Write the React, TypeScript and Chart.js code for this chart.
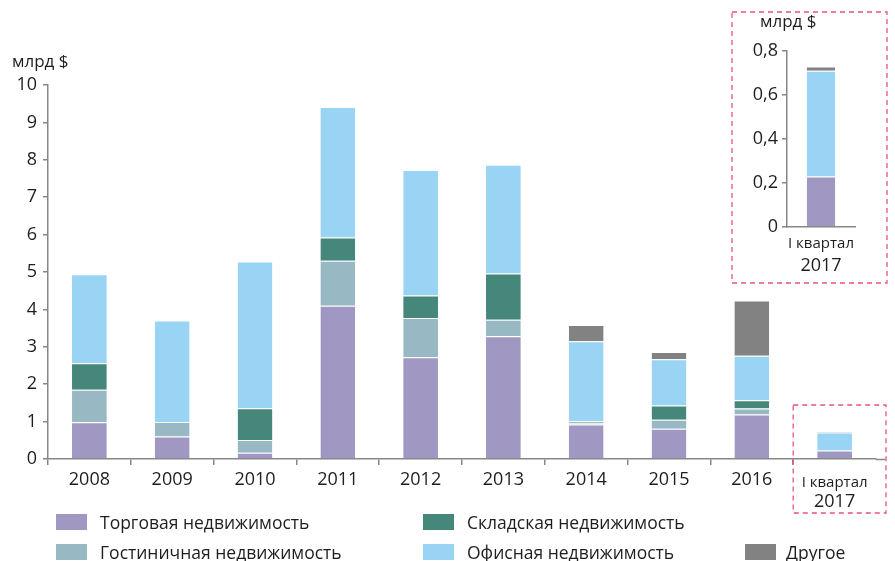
import { useEffect, useRef } from "react"
import { Chart, registerables } from "chart.js"

Chart.register(...registerables)

const years = ["2008", "2009", "2010", "2011", "2012", "2013", "2014", "2015", "2016", "I квартал 2017"]
const retail = [0.98, 0.6, 0.17, 4.1, 2.72, 3.28, 0.92, 0.81, 1.19, 0.23]
const hotel = [0.87, 0.39, 0.34, 1.2, 1.05, 0.44, 0.05, 0.24, 0.16, 0]
const warehouse = [0.71, 0, 0.85, 0.62, 0.6, 1.24, 0.04, 0.38, 0.22, 0]
const office = [2.38, 2.71, 3.92, 3.49, 3.36, 2.91, 2.14, 1.24, 1.19, 0.48]
const other = [0, 0, 0, 0, 0, 0, 0.43, 0.19, 1.48, 0.02]

const quarterLabel = ["I квартал", "2017"]
const unitLabel = "млрд $"

const series = [
  { label: "Торговая недвижимость", data: retail, color: "#a097c2" },
  { label: "Гостиничная недвижимость", data: hotel, color: "#98b9c3" },
  { label: "Складская недвижимость", data: warehouse, color: "#46877b" },
  { label: "Офисная недвижимость", data: office, color: "#99d4f5" },
  { label: "Другое", data: other, color: "#828282" },
]

const FONT = "'Open Sans', 'Noto Sans', sans-serif"
const AXIS = "#878787"
const TEXT = "#1e1e1e"
const PINK = "#e8537c"

const makeDatasets = (idx: number | null) =>
  series.map((s) => ({
    label: s.label,
    data: idx === null ? s.data : [s.data[idx]],
    backgroundColor: s.color,
    borderColor: "rgba(255,255,255,0.85)",
    borderWidth: { top: 1, left: 0, right: 0, bottom: 0 },
    borderSkipped: false as const,
    barPercentage: 0.42,
    categoryPercentage: 1,
  }))

// draws the two-line "I квартал / 2017" label with a smaller first line
const quarterTick = (index: number, y1: number, y2: number) => ({
  id: "quarterTick" + index,
  afterDraw(chart: Chart) {
    const ctx = chart.ctx
    const x = chart.scales.x.getPixelForValue(index)
    ctx.save()
    ctx.fillStyle = TEXT
    ctx.textAlign = "center"
    ctx.textBaseline = "middle"
    ctx.font = `15px ${FONT}`
    ctx.fillText(quarterLabel[0], x, y1)
    ctx.font = `18px ${FONT}`
    ctx.fillText(quarterLabel[1], x, y2)
    ctx.restore()
  },
})

const unitText = (x: number, y: number) => ({
  id: "unitText",
  afterDraw(chart: Chart) {
    const ctx = chart.ctx
    ctx.save()
    ctx.fillStyle = TEXT
    ctx.font = `17px ${FONT}`
    ctx.textBaseline = "middle"
    ctx.fillText(unitLabel, x, y)
    ctx.restore()
  },
})

// pink dashed frames + the x axis line running a bit past the last category
const decorations = {
  id: "decorations",
  afterDraw(chart: Chart) {
    const ctx = chart.ctx
    const xs = chart.scales.x
    const area = chart.chartArea
    const last = years.length - 1
    const left = (xs.getPixelForValue(last - 1) + xs.getPixelForValue(last)) / 2
    const right = xs.getPixelForValue(last) + (xs.getPixelForValue(last) - left) + 10
    ctx.save()
    ctx.strokeStyle = AXIS
    ctx.lineWidth = 1.5
    ctx.beginPath()
    ctx.moveTo(area.right, area.bottom + 0.5)
    ctx.lineTo(area.right + 9, area.bottom + 0.5)
    ctx.stroke()
    ctx.strokeStyle = PINK
    ctx.lineWidth = 1.3
    ctx.setLineDash([5, 4])
    ctx.strokeRect(left, 405, right - left, 108)
    ctx.strokeRect(732, 12, 155, 271)
    ctx.restore()
  },
}

export default function App() {
  const mainRef = useRef<HTMLCanvasElement>(null)
  const insetRef = useRef<HTMLCanvasElement>(null)

  useEffect(() => {
    document.body.style.margin = "0"
    if (!mainRef.current || !insetRef.current) return

    const main = new Chart(mainRef.current, {
      type: "bar",
      data: { labels: years, datasets: makeDatasets(null) },
      options: {
        animation: false,
        responsive: false,
        layout: { padding: { top: 85, left: 0, right: 19, bottom: 0 } },
        plugins: { legend: { display: false }, tooltip: { enabled: false } },
        scales: {
          x: {
            stacked: true,
            afterFit: (s) => {
              s.height = 102
            },
            border: { color: AXIS, width: 1.5 },
            grid: {
              drawOnChartArea: false,
              drawTicks: true,
              tickLength: 6,
              // the closing line after the last category has no tick context
              color: (c: any) => (c.tick ? AXIS : "rgba(0,0,0,0)"),
              lineWidth: 1.5,
              offset: true,
            },
            ticks: {
              color: TEXT,
              font: { family: FONT, size: 18 },
              padding: 4,
              callback: (_v, i) => (i === years.length - 1 ? "" : years[i]),
            },
          },
          y: {
            stacked: true,
            min: 0,
            max: 10,
            afterFit: (s) => {
              s.width = 48
            },
            border: { color: AXIS, width: 1.5 },
            grid: { drawOnChartArea: false, drawTicks: true, tickLength: 5, color: AXIS, lineWidth: 1.5 },
            ticks: { stepSize: 1, color: TEXT, font: { family: FONT, size: 18 }, padding: 6 },
          },
        },
      },
      plugins: [quarterTick(years.length - 1, 483, 502), unitText(12, 62), decorations],
    })

    const q = years.length - 1
    const inset = new Chart(insetRef.current, {
      type: "bar",
      data: { labels: [years[q]], datasets: makeDatasets(q) },
      options: {
        animation: false,
        responsive: false,
        layout: { padding: { top: 39, left: 0, right: 32, bottom: 0 } },
        plugins: { legend: { display: false }, tooltip: { enabled: false } },
        scales: {
          x: {
            stacked: true,
            afterFit: (s) => {
              s.height = 56
            },
            border: { color: AXIS, width: 1.5 },
            grid: { display: false },
            ticks: { callback: () => "" },
          },
          y: {
            stacked: true,
            min: 0,
            max: 0.8,
            afterFit: (s) => {
              s.width = 55
            },
            border: { color: AXIS, width: 1.5 },
            grid: { drawOnChartArea: false, drawTicks: true, tickLength: 5, color: AXIS, lineWidth: 1.5 },
            ticks: {
              stepSize: 0.2,
              color: TEXT,
              font: { family: FONT, size: 18 },
              padding: 4,
              callback: (v) => String(Math.round(Number(v) * 10) / 10).replace(".", ","),
            },
          },
        },
      },
      plugins: [quarterTick(0, 232, 254), unitText(28, 10)],
    })

    return () => {
      main.destroy()
      inset.destroy()
    }
  }, [])

  const legendRows = [
    [series[0], series[2]],
    [series[1], series[3], series[4]],
  ]
  const cols = [56, 423, 745]

  return (
    <div style={{ position: "relative", width: 895, height: 561, background: "#fff", fontFamily: FONT, overflow: "hidden" }}>
      <canvas ref={mainRef} width={895} height={561} style={{ position: "absolute", left: 0, top: 0 }} />
      <canvas ref={insetRef} width={155} height={271} style={{ position: "absolute", left: 732, top: 12 }} />
      {legendRows.map((row, r) =>
        row.map((s, c) => (
          <div
            key={s.label}
            style={{
              position: "absolute",
              left: cols[c],
              top: 514 + r * 30,
              display: "flex",
              alignItems: "center",
              height: 16,
              fontSize: 17.5,
              color: TEXT,
              whiteSpace: "nowrap",
            }}
          >
            <span style={{ display: "inline-block", width: 31, height: 16, background: s.color, marginRight: c === 2 ? 10 : 13 }} />
            {s.label}
          </div>
        ))
      )}
    </div>
  )
}
